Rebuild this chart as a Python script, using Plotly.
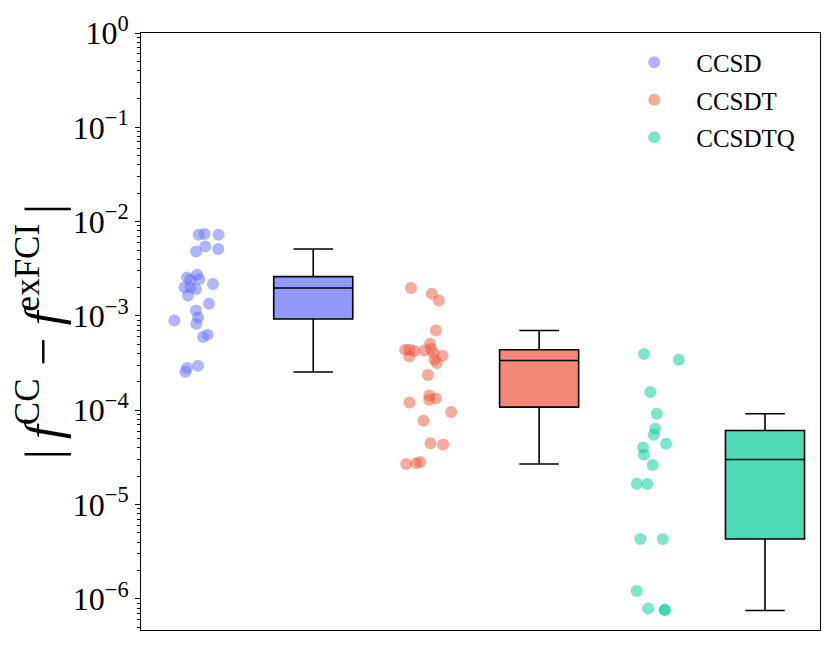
import plotly.graph_objects as go

# methods and colours
methods = ["CCSD", "CCSDT", "CCSDTQ"]
colors = ["#636efa", "#EF553B", "#00cc96"]
fills = ["rgba(99,110,250,0.7)", "rgba(239,85,59,0.7)", "rgba(0,204,150,0.7)"]

# |f^CC - f^exFCI| for every system
ccsd_values = [7.26e-3, 7.39e-3, 7.26e-3, 5.46e-3, 4.83e-3, 5.12e-3, 2.56e-3, 2.73e-3,
               2.42e-3, 2.46e-3, 2.18e-3, 2.00e-3, 2.02e-3, 1.93e-3, 1.65e-3, 1.35e-3,
               1.14e-3, 9.64e-4, 8.96e-4, 8.26e-4, 5.97e-4, 6.32e-4, 2.80e-4, 2.56e-4, 2.96e-4]
ccsd_jitter = [-0.015, 0.038, 0.162, 0.044, -0.038, 0.159, -0.118, -0.029, -0.088, -0.009,
               0.112, -0.139, -0.088, -0.038, -0.109, 0.077, -0.038, -0.020, -0.230, -0.035,
               0.024, 0.065, -0.118, -0.133, -0.020]

ccsdt_values = [1.98e-3, 1.72e-3, 1.46e-3, 7.02e-4, 5.07e-4, 4.38e-4, 4.38e-4, 4.24e-4,
                4.31e-4, 4.49e-4, 3.72e-4, 4.04e-4, 3.79e-4, 3.43e-4, 3.17e-4, 2.36e-4,
                1.43e-4, 1.33e-4, 1.29e-4, 1.21e-4, 9.57e-5, 7.74e-5, 4.48e-5, 4.34e-5,
                2.69e-5, 2.75e-5, 2.82e-5]
ccsdt_jitter = [-0.135, 0.050, 0.112, 0.086, 0.035, -0.186, -0.148, -0.104, -0.015, 0.042,
                -0.150, 0.065, 0.144, 0.073, 0.095, 0.015, 0.027, 0.086, 0.027, -0.148,
                0.221, -0.024, 0.038, 0.150, -0.177, -0.088, -0.053]

ccsdtq_values = [3.94e-4, 3.43e-4, 1.56e-4, 9.18e-5, 6.37e-5, 5.50e-5, 4.41e-5, 4.03e-5,
                 3.37e-5, 2.62e-5, 1.66e-5, 1.65e-5, 4.31e-6, 4.31e-6, 1.21e-6, 7.91e-7,
                 7.66e-7, 7.60e-7]
ccsdtq_jitter = [-0.071, 0.236, -0.015, 0.042, 0.027, 0.015, 0.124, -0.080, -0.073, 0.006,
                 -0.135, -0.042, -0.104, 0.095, -0.135, -0.035, 0.112, 0.112]

# box statistics per method
box_lower = [2.54e-4, 2.69e-5, 7.53e-7]
box_q1 = [9.27e-4, 1.08e-4, 4.31e-6]
box_median = [1.98e-3, 3.37e-4, 3.01e-5]
box_q3 = [2.61e-3, 4.38e-4, 6.11e-5]
box_upper = [5.12e-3, 7.00e-4, 9.18e-5]

# y tick labels
tick_exps = [0, -1, -2, -3, -4, -5, -6]
minor_mult = [2, 3, 4, 5, 6, 7, 8, 9]

values = [ccsd_values, ccsdt_values, ccsdtq_values]
jitters = [ccsd_jitter, ccsdt_jitter, ccsdtq_jitter]

fig = go.Figure()

for i, name in enumerate(methods):
    center = 2 * i + 0.5
    fig.add_trace(go.Scatter(
        x=[center + j for j in jitters[i]], y=values[i], mode="markers", name=name,
        legendgroup=name,
        marker=dict(color=colors[i], size=12, opacity=0.5, line=dict(width=0)),
    ))

for i, name in enumerate(methods):
    fig.add_trace(go.Box(
        x=[2 * i + 1.5], q1=[box_q1[i]], median=[box_median[i]], q3=[box_q3[i]],
        lowerfence=[box_lower[i]], upperfence=[box_upper[i]],
        width=0.7, whiskerwidth=0.5, fillcolor=fills[i],
        line=dict(color="black", width=1.6), showlegend=False, hoverinfo="skip",
    ))

minor_vals = [m * 10.0 ** e for e in tick_exps + [-7] for m in minor_mult]

# the page body adds an 8px margin, so the figure is a bit smaller than the window
fig.update_layout(
    width=814, height=648,
    margin=dict(l=133, r=2, t=25, b=26),
    plot_bgcolor="white", paper_bgcolor="white",
    font=dict(family="Liberation Serif", color="black"),
    showlegend=True,
    legend=dict(x=0.694, y=0.989, xanchor="left", yanchor="top", bgcolor="rgba(0,0,0,0)",
                font=dict(size=25), tracegroupgap=2, itemwidth=74),
    xaxis=dict(range=[-0.025, 5.987], showticklabels=False, ticks="", showgrid=False,
               zeroline=False, showline=True, linecolor="black", linewidth=1, mirror=True,
               automargin=False),
    yaxis=dict(type="log", range=[-6.33, 0], showgrid=False, zeroline=False, automargin=False,
               tickmode="array", tickvals=[10 ** e for e in tick_exps],
               ticktext=["10<sup>" + (str(e) if e == 0 else "\u2212" + str(-e)) + "</sup>" for e in tick_exps],
               ticks="outside", ticklen=5, tickwidth=1, tickcolor="black",
               minor=dict(tickmode="array", tickvals=minor_vals, ticks="outside", ticklen=3,
                          tickcolor="black", showgrid=False),
               tickfont=dict(size=32),
               showline=True, linecolor="black", linewidth=1, mirror=True,
               title=dict(text="|\u2009<i>f</i><sup>CC</sup> \u2212 <i>f</i><sup>exFCI</sup>\u2009|",
                          font=dict(size=50), standoff=18)),
)

fig.write_html("out.html")
